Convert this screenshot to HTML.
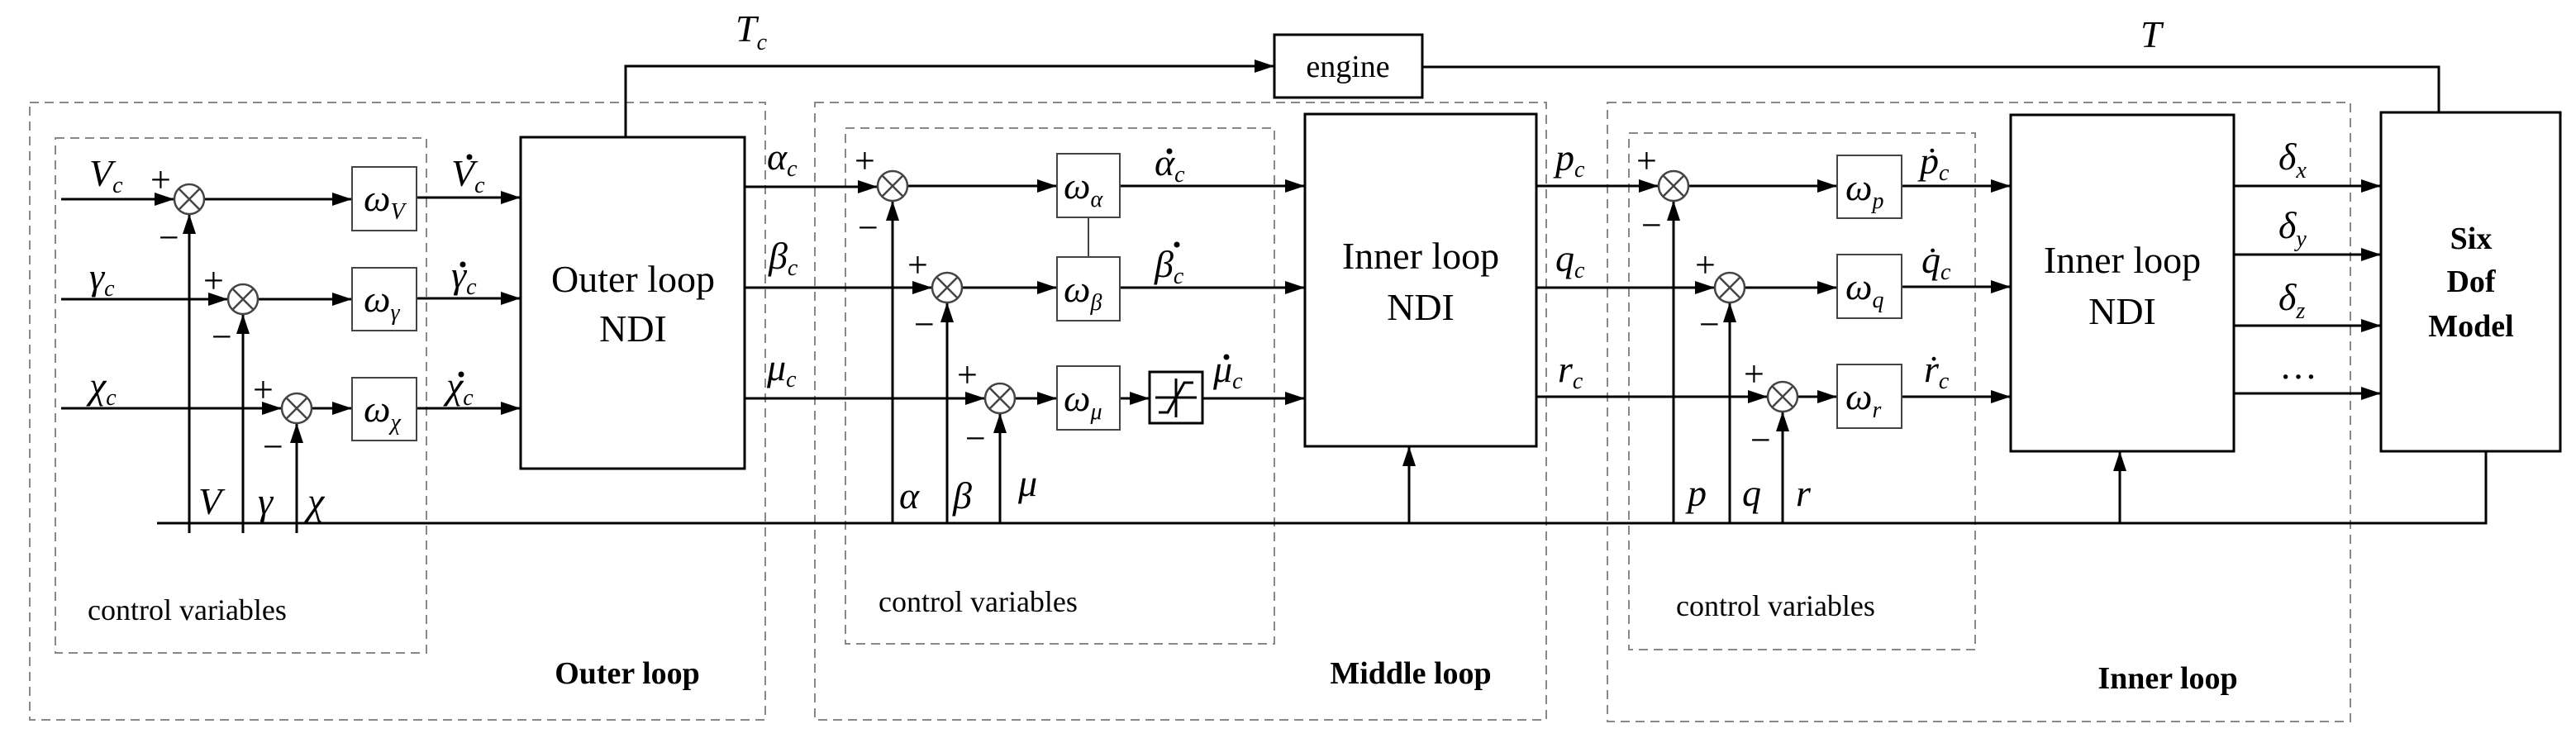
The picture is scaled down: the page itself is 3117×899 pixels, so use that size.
<!DOCTYPE html>
<html><head><meta charset="utf-8"><style>
html,body{margin:0;padding:0;background:#fff}
svg{display:block}
text{font-family:"Liberation Serif",serif;fill:#000}
.i{font-style:italic;font-size:46px}
.s{font-size:28px;font-style:italic}
.b{font-weight:bold;font-size:38px}
.n{font-size:46px}
.cv{font-size:36px}
</style></head><body>
<svg width="3117" height="899" viewBox="0 0 3117 899" xmlns="http://www.w3.org/2000/svg">
<defs>
<marker id="a" markerUnits="userSpaceOnUse" markerWidth="24" markerHeight="16" refX="24" refY="8" orient="auto">
<path d="M0,0 L24,8 L0,16 z" fill="#000"/></marker>
<g id="sum"><circle r="18" fill="#fff" stroke="#444" stroke-width="2.5"/><path d="M-12.7,-12.7 L12.7,12.7 M-12.7,12.7 L12.7,-12.7" stroke="#444" stroke-width="2.5"/></g>
</defs>

<g fill="none" stroke="#888" stroke-width="2" stroke-dasharray="11,7">
<rect x="36" y="124" width="890" height="747"/>
<rect x="67" y="167" width="449" height="623"/>
<rect x="986" y="124" width="885" height="747"/>
<rect x="1023" y="155" width="519" height="624"/>
<rect x="1945" y="124" width="899" height="749"/>
<rect x="1971" y="161" width="419" height="625"/>
</g>

<g stroke="#000" stroke-width="3" fill="none">
<rect x="630" y="166" width="271" height="401"/>
<rect x="1579" y="138" width="280" height="402"/>
<rect x="2433" y="139" width="270" height="407"/>
<rect x="2881" y="136" width="217" height="410"/>
<rect x="1542" y="42" width="179" height="76"/>
<rect x="1391" y="450" width="64" height="62"/>
<path d="M757,166 V80 H1542" marker-end="url(#a)"/>
<path d="M1721,81 H2951 V136"/>
<path d="M190,633 H3008 V546"/>
<path d="M74,241 H211" marker-end="url(#a)"/>
<path d="M74,362 H276" marker-end="url(#a)"/>
<path d="M74,494 H341" marker-end="url(#a)"/>
<path d="M247,241 H426" marker-end="url(#a)"/>
<path d="M312,362 H426" marker-end="url(#a)"/>
<path d="M377,494 H426" marker-end="url(#a)"/>
<path d="M504,239 H630" marker-end="url(#a)"/>
<path d="M504,361 H630" marker-end="url(#a)"/>
<path d="M504,494 H630" marker-end="url(#a)"/>
<path d="M229,645 V259" marker-end="url(#a)"/>
<path d="M294,645 V380" marker-end="url(#a)"/>
<path d="M359,645 V512" marker-end="url(#a)"/>
<path d="M901,226 H1062" marker-end="url(#a)"/>
<path d="M901,348 H1128" marker-end="url(#a)"/>
<path d="M901,482 H1192" marker-end="url(#a)"/>
<path d="M1098,225 H1279" marker-end="url(#a)"/>
<path d="M1164,348 H1279" marker-end="url(#a)"/>
<path d="M1228,482 H1279" marker-end="url(#a)"/>
<path d="M1355,225 H1579" marker-end="url(#a)"/>
<path d="M1355,348 H1579" marker-end="url(#a)"/>
<path d="M1355,482 H1391" marker-end="url(#a)"/>
<path d="M1455,482 H1579" marker-end="url(#a)"/>
<path d="M1080,633 V243" marker-end="url(#a)"/>
<path d="M1146,633 V366" marker-end="url(#a)"/>
<path d="M1210,633 V500" marker-end="url(#a)"/>
<path d="M1705,633 V540" marker-end="url(#a)"/>
<path d="M1859,225 H2007" marker-end="url(#a)"/>
<path d="M1859,348 H2075" marker-end="url(#a)"/>
<path d="M1859,480 H2139" marker-end="url(#a)"/>
<path d="M2043,225 H2223" marker-end="url(#a)"/>
<path d="M2111,348 H2223" marker-end="url(#a)"/>
<path d="M2175,480 H2223" marker-end="url(#a)"/>
<path d="M2301,225 H2433" marker-end="url(#a)"/>
<path d="M2301,347 H2433" marker-end="url(#a)"/>
<path d="M2301,480 H2433" marker-end="url(#a)"/>
<path d="M2025,633 V243" marker-end="url(#a)"/>
<path d="M2093,633 V366" marker-end="url(#a)"/>
<path d="M2157,633 V498" marker-end="url(#a)"/>
<path d="M2565,633 V546" marker-end="url(#a)"/>
<path d="M2703,225 H2881" marker-end="url(#a)"/>
<path d="M2703,308 H2881" marker-end="url(#a)"/>
<path d="M2703,394 H2881" marker-end="url(#a)"/>
<path d="M2703,476 H2881" marker-end="url(#a)"/>
</g>
<path d="M1398,481 H1448 M1423,458 V505 M1402,499 H1413 L1433,463 H1444" stroke="#000" stroke-width="3" fill="none"/>

<g fill="#fff" stroke="#444" stroke-width="2">
<rect x="426" y="202" width="78" height="77"/>
<rect x="426" y="324" width="78" height="76"/>
<rect x="426" y="457" width="78" height="76"/>
<rect x="1279" y="186" width="76" height="77"/>
<rect x="1279" y="311" width="76" height="77"/>
<rect x="1279" y="443" width="76" height="77"/>
<rect x="2223" y="188" width="78" height="76"/>
<rect x="2223" y="308" width="78" height="77"/>
<rect x="2223" y="441" width="78" height="77"/>
</g>
<path d="M1317,263 V311" stroke="#444" stroke-width="2"/>

<use href="#sum" x="229" y="241"/><use href="#sum" x="294" y="362"/><use href="#sum" x="359" y="494"/>
<use href="#sum" x="1080" y="225"/><use href="#sum" x="1146" y="348"/><use href="#sum" x="1210" y="482"/>
<use href="#sum" x="2025" y="225"/><use href="#sum" x="2093" y="348"/><use href="#sum" x="2157" y="480"/>

<g class="i">
<text x="440" y="255">ω<tspan class="s" dy="10">V</tspan></text>
<text x="440" y="377">ω<tspan class="s" dy="10">γ</tspan></text>
<text x="440" y="510">ω<tspan class="s" dy="10">χ</tspan></text>
<text x="1287" y="240">ω<tspan class="s" dy="10">α</tspan></text>
<text x="1287" y="365">ω<tspan class="s" dy="10">β</tspan></text>
<text x="1287" y="497">ω<tspan class="s" dy="10">μ</tspan></text>
<text x="2233" y="242">ω<tspan class="s" dy="10">p</tspan></text>
<text x="2233" y="362">ω<tspan class="s" dy="10">q</tspan></text>
<text x="2233" y="495">ω<tspan class="s" dy="10">r</tspan></text>
</g>

<g class="i">
<text x="108" y="225">V<tspan class="s" dy="8">c</tspan></text>
<text x="108" y="350">γ<tspan class="s" dy="8">c</tspan></text>
<text x="108" y="482">χ<tspan class="s" dy="8">c</tspan></text>
<text x="546" y="225">V<tspan class="s" dy="8">c</tspan></text>
<text x="546" y="348">γ<tspan class="s" dy="8">c</tspan></text>
<text x="540" y="482">χ<tspan class="s" dy="8">c</tspan></text>
<text x="240" y="622">V</text><text x="312" y="622">γ</text><text x="372" y="622">χ</text>
<text x="890" y="50">T<tspan class="s" dy="10">c</tspan></text>
<text x="2590" y="57">T</text>
<text x="928" y="205">α<tspan class="s" dy="8">c</tspan></text>
<text x="930" y="325">β<tspan class="s" dy="8">c</tspan></text>
<text x="928" y="460">μ<tspan class="s" dy="8">c</tspan></text>
<text x="1397" y="212">α<tspan class="s" dy="8">c</tspan></text>
<text x="1397" y="335">β<tspan class="s" dy="8">c</tspan></text>
<text x="1468" y="462">μ<tspan class="s" dy="8">c</tspan></text>
<text x="1088" y="615">α</text><text x="1153" y="615">β</text><text x="1232" y="600">μ</text>
<text x="1882" y="206">p<tspan class="s" dy="8">c</tspan></text>
<text x="1882" y="328">q<tspan class="s" dy="8">c</tspan></text>
<text x="1885" y="462">r<tspan class="s" dy="8">c</tspan></text>
<text x="2323" y="210">ṗ<tspan class="s" dy="8">c</tspan></text>
<text x="2325" y="330">q̇<tspan class="s" dy="8">c</tspan></text>
<text x="2328" y="462">ṙ<tspan class="s" dy="8">c</tspan></text>
<text x="2042" y="612">p</text><text x="2108" y="612">q</text><text x="2173" y="612">r</text>
<text x="2757" y="205">δ<tspan class="s" dy="10">x</tspan></text>
<text x="2757" y="288">δ<tspan class="s" dy="10">y</tspan></text>
<text x="2757" y="375">δ<tspan class="s" dy="10">z</tspan></text>
</g>
<g fill="#000">
<circle cx="568" cy="190" r="3.5"/>
<circle cx="560" cy="320" r="3.5"/>
<circle cx="558" cy="453" r="3.5"/>
<circle cx="1415" cy="183" r="3.5"/>
<circle cx="1424" cy="296" r="3.5"/>
<circle cx="1484" cy="432" r="3.5"/>
</g>
<text x="2758" y="458" class="n">…</text>

<g style="font-size:44px;font-family:'Liberation Sans',sans-serif">
<text x="182" y="232">+</text><text x="192" y="302">−</text>
<text x="246" y="354">+</text><text x="256" y="422">−</text>
<text x="306" y="486">+</text><text x="318" y="555">−</text>
<text x="1034" y="209">+</text><text x="1038" y="290">−</text>
<text x="1098" y="335">+</text><text x="1106" y="407">−</text>
<text x="1158" y="468">+</text><text x="1168" y="545">−</text>
<text x="1980" y="209">+</text><text x="1986" y="287">−</text>
<text x="2051" y="335">+</text><text x="2056" y="407">−</text>
<text x="2110" y="467">+</text><text x="2118" y="547">−</text>
</g>

<g class="n" text-anchor="middle">
<text x="766" y="353">Outer loop</text><text x="766" y="413">NDI</text>
<text x="1719" y="325">Inner loop</text><text x="1719" y="387">NDI</text>
<text x="2568" y="330">Inner loop</text><text x="2568" y="392">NDI</text>
</g>
<text x="1631" y="93" text-anchor="middle" style="font-size:38px">engine</text>
<g class="b" text-anchor="middle">
<text x="2990" y="301">Six</text><text x="2990" y="353">Dof</text><text x="2990" y="407">Model</text>
<text x="759" y="827">Outer loop</text>
<text x="1707" y="827">Middle loop</text>
<text x="2623" y="833">Inner loop</text>
</g>
<g class="cv">
<text x="106" y="750">control variables</text>
<text x="1063" y="740">control variables</text>
<text x="2028" y="745">control variables</text>
</g>
</svg>
</body></html>
